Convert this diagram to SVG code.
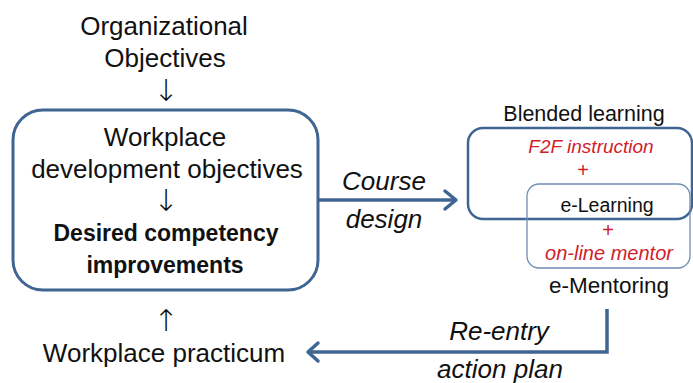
<svg xmlns="http://www.w3.org/2000/svg" width="693" height="383" viewBox="0 0 693 383">
<defs>
<style>
.t{font-family:"Liberation Sans",Arial,sans-serif;fill:#111;text-anchor:middle}
.big{font-size:26px}
.b{font-weight:bold;font-size:23px}
.it{font-style:italic}
.red{fill:#d0202a}
.arr{font-family:"DejaVu Sans",sans-serif;font-weight:200;font-size:30px;fill:#111;text-anchor:middle}
.conn{fill:none;stroke:#3f6593;stroke-width:3.5;stroke-linejoin:miter}
.head{fill:none;stroke:#3f6593;stroke-width:3.5;stroke-linecap:round;stroke-linejoin:round}
</style>
</defs>
<rect width="693" height="383" fill="#fff"/>
<g id="org-objectives">
<text class="t big" x="164" y="35">Organizational</text>
<text class="t big" x="165" y="67">Objectives</text>
<text class="arr" x="166" y="101">↓</text>
</g>
<g id="workplace-box">
<rect x="13" y="110" width="305" height="180" rx="30" fill="#fff" stroke="#3f6593" stroke-width="3"/>
<text class="t big" x="165" y="146">Workplace</text>
<text class="t big" x="167" y="178">development objectives</text>
<text class="arr" x="166" y="211">↓</text>
<text class="t b" x="166" y="241">Desired competency</text>
<text class="t b" x="165" y="273">improvements</text>
</g>
<g id="blended">
<text class="t" style="font-size:21.5px" x="584" y="121">Blended learning</text>
<rect x="468" y="128" width="224" height="91" rx="15" fill="none" stroke="#3f6593" stroke-width="2.5"/>
<text class="t it red" style="font-size:19px" x="591" y="153">F2F instruction</text>
<text class="t red" style="font-size:20px" x="583" y="177">+</text>
</g>
<g id="ementoring">
<rect x="527" y="184" width="163" height="84" rx="12" fill="none" stroke="#6f8db3" stroke-width="1.3"/>
<text class="t" style="font-size:19.5px" x="607" y="212">e-Learning</text>
<text class="t red" style="font-size:20px" x="608" y="237">+</text>
<text class="t it red" style="font-size:20px" x="609" y="260">on-line mentor</text>
<text class="t" style="font-size:22.5px" x="609" y="293">e-Mentoring</text>
</g>
<g id="practicum">
<text class="arr" x="166" y="331">↑</text>
<text class="t big" x="164" y="362">Workplace practicum</text>
</g>
<g id="connectors">
<line class="conn" x1="318" y1="200" x2="455" y2="200"/>
<polyline class="head" points="445,191 456,200 445,209"/>
<polyline class="conn" points="607,309 607,352 308,352"/>
<polyline class="head" points="318,343 308,352 318,361"/>
<text class="t it big" x="384" y="190">Course</text>
<text class="t it big" x="384" y="228">design</text>
<text class="t it big" x="499" y="340">Re-entry</text>
<text class="t it big" x="500" y="378">action plan</text>
</g>
</svg>
